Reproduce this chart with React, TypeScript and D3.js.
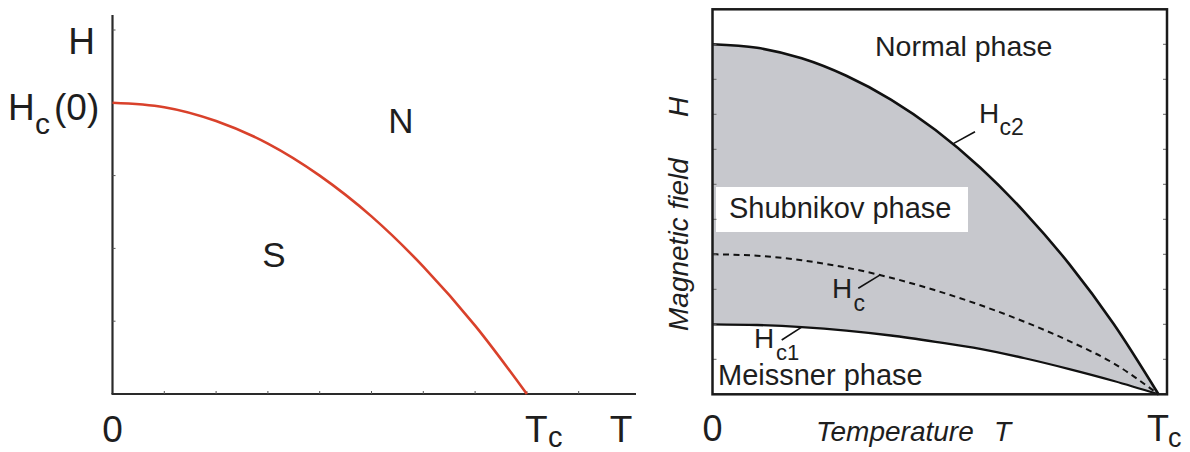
import React from "react";
import * as d3 from "d3";

// Type-I superconductor: critical field Hc(T), in units of the axis tick spacing
const typeIT = [0, 1, 2, 3, 4, 5, 6, 7, 8];
const typeIH = [4.0, 3.94, 3.75, 3.44, 3.0, 2.44, 1.75, 0.94, 0];
const typeITc = 8;

// Type-II superconductor: reduced temperature T/Tc and the three critical fields
const typeIIT = [0, 0.1, 0.2, 0.3, 0.4, 0.5, 0.6, 0.7, 0.8, 0.9, 1.0];
const hc2 = [10, 9.9, 9.6, 9.1, 8.42, 7.55, 6.48, 5.2, 3.72, 2.0, 0];
const hc = [4.0, 3.96, 3.83, 3.62, 3.33, 2.97, 2.55, 2.07, 1.52, 0.88, 0];
const hc1 = [2.0, 1.98, 1.92, 1.82, 1.68, 1.5, 1.3, 1.03, 0.72, 0.38, 0];

// Points on each curve where the label leader lines touch
const hc2Mark = { t: 0.541, h: 7.17 };
const hcMark = { t: 0.377, h: 3.42 };
const hc1Mark = { t: 0.2, h: 1.92 };

const FONT = "'Liberation Sans', Arial, Helvetica, sans-serif";
const INK = "#1e1e1e";

export default function App() {
  // ---- left panel scales
  const xL = d3.scaleLinear().domain([0, 10]).range([112.5, 630.5]);
  const yL = d3.scaleLinear().domain([0, 5]).range([394, 30]);
  const lineL = d3
    .line<number>()
    .x((_, i) => xL(typeIT[i]))
    .y((d) => yL(d))
    .curve(d3.curveMonotoneX);

  // ---- right panel scales
  const xR = d3.scaleLinear().domain([0, 1]).range([712.5, 1158.5]);
  const yR = d3.scaleLinear().domain([0, 11]).range([394.3, 9.3]);
  const lineR = (vals: number[]) =>
    d3
      .line<number>()
      .x((_, i) => xR(typeIIT[i]))
      .y((d) => yR(d))
      .curve(d3.curveMonotoneX)(vals) as string;
  const shubnikov = d3
    .area<number>()
    .x((t) => xR(t))
    .y0((_, i) => yR(hc1[i]))
    .y1((_, i) => yR(hc2[i]))
    .curve(d3.curveMonotoneX)(typeIIT) as string;

  const boxL = 712.5;
  const boxR = 1167;
  const boxT = yR(11);
  const boxB = yR(0);

  return (
    <div style={{ position: "absolute", left: 0, top: 0 }}>
      <svg width={1190} height={452} style={{ display: "block", background: "#fff" }} fontFamily={FONT}>
        {/* ===== Left: type-I phase diagram ===== */}
        <g>
          <line x1={xL(0)} x2={xL(0)} y1={15} y2={yL(0)} stroke="#2a2a2a" strokeWidth={2.2} />
          <line x1={xL(0) - 1} x2={636} y1={yL(0)} y2={yL(0)} stroke="#2a2a2a" strokeWidth={2.2} />
          {yL.ticks(5).filter((v) => v > 0).map((v) => (
            <line key={"ly" + v} x1={xL(0)} x2={xL(0) + 3} y1={yL(v)} y2={yL(v)} stroke="#555" strokeWidth={1} />
          ))}
          {xL.ticks(10).filter((v) => v > 0 && v < 10).map((v) => (
            <line key={"lx" + v} x1={xL(v)} x2={xL(v)} y1={yL(0)} y2={yL(0) - 3} stroke="#555" strokeWidth={1} />
          ))}
          <path d={lineL(typeIH) as string} fill="none" stroke="#d9412b" strokeWidth={2.6} />

          <text x={95} y={54} fontSize={37} fill={INK} textAnchor="end">H</text>
          <text x={8} y={120} fontSize={37} fill={INK}>H</text>
          <text x={35} y={134} fontSize={30} fill={INK}>c</text>
          <text x={54} y={120} fontSize={37} fill={INK}>(0)</text>
          <text x={401} y={133} fontSize={35} fill={INK} textAnchor="middle">N</text>
          <text x={274} y={267} fontSize={35} fill={INK} textAnchor="middle">S</text>
          <text x={xL(0)} y={442} fontSize={37} fill={INK} textAnchor="middle">0</text>
          <text x={xL(typeITc) - 2} y={442} fontSize={37} fill={INK}>T</text>
          <text x={xL(typeITc) + 21} y={447} fontSize={29} fill={INK}>c</text>
          <text x={621} y={442} fontSize={37} fill={INK} textAnchor="middle">T</text>
        </g>

        {/* ===== Right: type-II phase diagram ===== */}
        <g>
          <path d={shubnikov} fill="#c7c8cd" />
          <rect x={716} y={187} width={252} height={45} fill="#fff" />
          <path d={lineR(hc2)} fill="none" stroke="#111" strokeWidth={2.6} />
          <path d={lineR(hc1)} fill="none" stroke="#111" strokeWidth={2.3} />
          <path d={lineR(hc)} fill="none" stroke="#111" strokeWidth={2} strokeDasharray="6 4.5" />

          {yR.ticks(11).filter((v) => v > 0 && v < 11).map((v) => (
            <g key={"ry" + v}>
              <line x1={boxL} x2={boxL + 4} y1={yR(v)} y2={yR(v)} stroke="#666" strokeWidth={1} />
              <line x1={boxR - 4} x2={boxR} y1={yR(v)} y2={yR(v)} stroke="#666" strokeWidth={1} />
            </g>
          ))}
          <rect x={boxL} y={boxT} width={boxR - boxL} height={boxB - boxT} fill="none" stroke="#1a1a1a" strokeWidth={2.5} />

          <text x={875} y={56} fontSize={28.5} fill={INK}>Normal phase</text>
          <text x={729} y={218} fontSize={29} fill={INK}>Shubnikov phase</text>
          <text x={718} y={385} fontSize={29} fill={INK}>Meissner phase</text>

          {/* Hc2 label */}
          <line x1={975} y1={131.7} x2={xR(hc2Mark.t)} y2={yR(hc2Mark.h)} stroke="#111" strokeWidth={1.6} />
          <text x={979} y={123} fontSize={28} fill={INK}>H</text>
          <text x={999.5} y={135} fontSize={23} fill={INK}>c2</text>

          {/* Hc label */}
          <line x1={858.3} y1={288.3} x2={xR(hcMark.t)} y2={yR(hcMark.h)} stroke="#111" strokeWidth={1.6} />
          <text x={832} y={298} fontSize={28} fill={INK}>H</text>
          <text x={853.5} y={311} fontSize={23} fill={INK}>c</text>

          {/* Hc1 label */}
          <line x1={781.7} y1={340} x2={xR(hc1Mark.t)} y2={yR(hc1Mark.h)} stroke="#111" strokeWidth={1.6} />
          <text x={754} y={348} fontSize={28} fill={INK}>H</text>
          <text x={776} y={360} fontSize={22} fill={INK}>c1</text>

          {/* axis titles */}
          <text transform="translate(688,331) rotate(-90)" fontSize={28} fontStyle="italic" fill={INK}>Magnetic field</text>
          <text transform="translate(688,117) rotate(-90)" fontSize={28} fontStyle="italic" fill={INK}>H</text>
          <text x={816} y={441} fontSize={28} fontStyle="italic" fill={INK}>Temperature</text>
          <text x={994} y={441} fontSize={28} fontStyle="italic" fill={INK}>T</text>
          <text x={xR(0)} y={441} fontSize={36} fill={INK} textAnchor="middle">0</text>
          <text x={1147} y={441} fontSize={36} fill={INK}>T</text>
          <text x={1168} y={447} fontSize={27} fill={INK}>c</text>
        </g>
      </svg>
    </div>
  );
}
